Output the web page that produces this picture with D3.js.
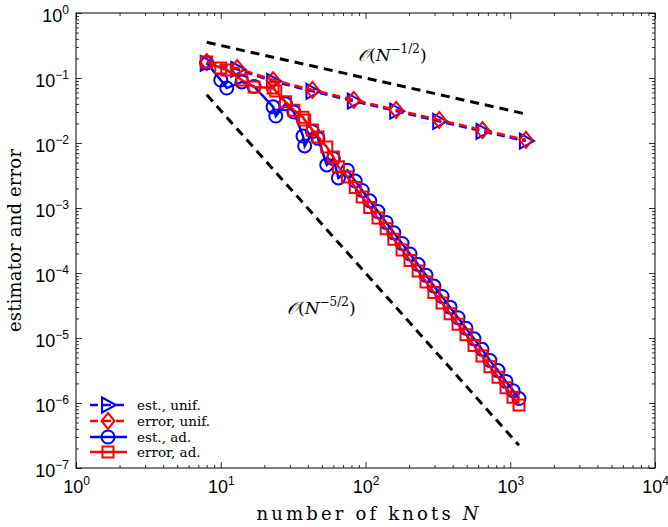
<!DOCTYPE html>
<html><head><meta charset="utf-8">
<script src="https://cdn.jsdelivr.net/npm/d3@7"></script>
<style>body{margin:0;background:#fff}</style>
</head><body><svg id="c" width="668" height="527"></svg>
<script>
// ---- data ----
const unifN   = [8,13,23,43,83,163,323,643,1283];
const unifErr = [0.176,0.142,0.093,0.0655,0.046,0.0323,0.0226,0.0158,0.0112];
const unifEst = [0.168,0.136,0.089,0.0625,0.044,0.0309,0.0216,0.0151,0.0107];

const adN   = [8,10,11,14,17,23,24,28,32,37,38,43,47,54,60,65,
               75,85,95,107,122,139,157,179,203,231,262,297,338,384,436,495,562,638,724,823,935,1045,1149];
const adErr = [0.176,0.143,0.133,0.093,0.073,0.070,0.063,0.043,0.032,0.025,0.0226,0.0158,0.0124,0.0087,0.0061,0.0043,
               0.0030,0.00206,0.00148,0.00102,7.0e-4,4.8e-4,3.3e-4,2.26e-4,1.56e-4,1.07e-4,7.3e-5,5.0e-5,3.47e-5,2.37e-5,1.63e-5,1.12e-5,7.7e-6,5.3e-6,3.6e-6,2.5e-6,1.71e-6,1.23e-6,9.3e-7];
const adEst = [0.170,0.093,0.070,0.087,0.074,0.036,0.026,0.040,0.030,0.0128,0.0090,0.0150,0.0118,0.0046,0.0058,0.0029,
               0.0038,0.00260,0.00186,0.00129,8.8e-4,6.0e-4,4.15e-4,2.85e-4,1.96e-4,1.35e-4,9.2e-5,6.3e-5,4.35e-5,2.98e-5,2.05e-5,1.41e-5,9.7e-6,6.7e-6,4.5e-6,3.15e-6,2.15e-6,1.55e-6,1.17e-6];

const refHalfN = [8,1283],  refHalfV = [0.354,0.0279];
const refFiveN = [8,1149],  refFiveV = [0.0552,2.23e-7];

const xMajor = [1,10,100,1000,10000];
const yMajor = [1e-7,1e-6,1e-5,1e-4,1e-3,1e-2,1e-1,1];
const xExp = ["0","1","2","3","4"];
const yExp = ["\u22127","\u22126","\u22125","\u22124","\u22123","\u22122","\u22121","0"];

const legendLabels = ["est., unif.","error, unif.","est., ad.","error, ad."];

// ---- layout ----
const L=76,R=655,T=13,B=468;
const svg=d3.select("#c");
const x=d3.scaleLog().domain([1,1e4]).range([L,R]);
const y=d3.scaleLog().domain([1e-7,1]).range([B,T]);

function minors(maj){const out=[];for(let i=0;i<maj.length-1;i++)for(let k=2;k<=9;k++)out.push(maj[i]*k);return out;}
const xMinor=minors(xMajor), yMinor=minors(yMajor);

const tickFont="'Liberation Sans', Arial, sans-serif";
const serif="'DejaVu Serif','Liberation Serif',serif";

svg.append("rect").attr("x",L).attr("y",T).attr("width",R-L).attr("height",B-T)
  .attr("fill","none").attr("stroke","#000").attr("stroke-width",1);

function tickAxis(gen, tr, vals, size){
  const g=svg.append("g").attr("transform",tr)
    .call(gen.tickValues(vals).tickSize(size).tickFormat(""));
  g.select(".domain").remove();
  g.selectAll(".tick line").attr("stroke","#000").attr("stroke-width",0.8);
  return g;
}
tickAxis(d3.axisBottom(x),`translate(0,${B})`,xMajor,-6);
tickAxis(d3.axisBottom(x),`translate(0,${B})`,xMinor,-3);
tickAxis(d3.axisTop(x),`translate(0,${T})`,xMajor,-6);
tickAxis(d3.axisTop(x),`translate(0,${T})`,xMinor,-3);
tickAxis(d3.axisLeft(y),`translate(${L},0)`,yMajor,-6);
tickAxis(d3.axisLeft(y),`translate(${L},0)`,yMinor,-3);
tickAxis(d3.axisRight(y),`translate(${R},0)`,yMajor,-6);
tickAxis(d3.axisRight(y),`translate(${R},0)`,yMinor,-3);

const gxl=svg.append("g").attr("transform",`translate(0,${B})`)
  .call(d3.axisBottom(x).tickValues(xMajor).tickSize(0).tickPadding(24).tickFormat(""));
gxl.select(".domain").remove();
gxl.selectAll(".tick text").each(function(d,i){
  const t=d3.select(this).attr("font-family",tickFont).attr("font-size",18).attr("fill","#000")
    .attr("text-anchor","middle").attr("dy",1);
  t.append("tspan").text("10");
  t.append("tspan").attr("dy",-8).attr("font-size",12).text(xExp[i]);
});
const gyl=svg.append("g").attr("transform",`translate(${L},0)`)
  .call(d3.axisLeft(y).tickValues(yMajor).tickSize(0).tickPadding(7).tickFormat(""));
gyl.select(".domain").remove();
gyl.selectAll(".tick text").each(function(d,i){
  const t=d3.select(this).attr("font-family",tickFont).attr("font-size",18).attr("fill","#000")
    .attr("text-anchor","end").attr("dy","0.45em");
  t.append("tspan").text("10");
  t.append("tspan").attr("dy",-8).attr("font-size",12).text(yExp[i]);
});

const xt=svg.append("text").attr("x",(L+R)/2+2).attr("y",520).attr("text-anchor","middle")
  .attr("font-family",serif).attr("font-size",18).attr("textLength",222).attr("lengthAdjust","spacing");
xt.append("tspan").text("number of knots ");
xt.append("tspan").attr("font-style","italic").text("N");
svg.append("text").attr("transform",`translate(21,${(T+B)/2}) rotate(-90)`).attr("text-anchor","middle")
  .attr("font-family",serif).attr("font-size",18).attr("textLength",183).attr("lengthAdjust","spacing")
  .text("estimator and error");

const line=d3.line().x(d=>x(d[0])).y(d=>y(d[1]));
[[refHalfN,refHalfV],[refFiveN,refFiveV]].forEach(([n,v])=>{
  svg.append("path").attr("d",line(d3.zip(n,v))).attr("fill","none")
    .attr("stroke","#000").attr("stroke-width",3).attr("stroke-dasharray","9,6");
});

function oLabel(px,py,exp){
  const t=svg.append("text").attr("x",px).attr("y",py).attr("font-family",serif).attr("font-size",17);
  t.append("tspan").attr("font-style","italic").text("\u{1D4AA}");
  t.append("tspan").text("(");
  t.append("tspan").attr("font-style","italic").text("N");
  t.append("tspan").attr("dy",-8).attr("font-size",12).text(exp);
  t.append("tspan").attr("dy",8).text(")");
}
oLabel(358,61,"\u22121/2");
oLabel(287,314,"\u22125/2");

const BLUE="#0000ff", RED="#ff0000";
const shapes={
  tri:"M-6,-7.5L8,0L-6,7.5Z",
  dia:"M0,-8L6.5,0L0,8L-6.5,0Z",
  circ:"M6.5,0A6.5,6.5 0 1,1 -6.5,0A6.5,6.5 0 1,1 6.5,0Z",
  sq:"M-5.5,-5.5H5.5V5.5H-5.5Z"
};
const series=[
  {N:unifN,V:unifEst,c:BLUE,dash:"8,5",m:"tri"},
  {N:unifN,V:unifErr,c:RED,dash:"8,5",m:"dia"},
  {N:adN,V:adEst,c:BLUE,dash:null,m:"circ"},
  {N:adN,V:adErr,c:RED,dash:null,m:"sq"}
];
series.forEach(s=>{
  const pts=d3.zip(s.N,s.V);
  svg.append("path").attr("d",line(pts)).attr("fill","none").attr("stroke",s.c)
    .attr("stroke-width",2.5).attr("stroke-dasharray",s.dash);
  svg.append("g").selectAll("path").data(pts).join("path")
    .attr("transform",d=>`translate(${x(d[0])},${y(d[1])})`).attr("d",shapes[s.m])
    .attr("fill","none").attr("stroke",s.c).attr("stroke-width",2);
});

const ly=[405,421,437,452];
series.forEach((s,i)=>{
  const g=svg.append("g").attr("transform",`translate(0,${ly[i]})`);
  g.append("line").attr("x1",90).attr("x2",127).attr("y1",0).attr("y2",0)
    .attr("stroke",s.c).attr("stroke-width",2.5).attr("stroke-dasharray",s.dash);
  g.append("path").attr("transform","translate(108,0)").attr("d",shapes[s.m])
    .attr("fill","none").attr("stroke",s.c).attr("stroke-width",2);
  g.append("text").attr("x",137).attr("y",5).attr("font-family",serif).attr("font-size",13.5)
    .text(legendLabels[i]);
});
</script></body></html>
